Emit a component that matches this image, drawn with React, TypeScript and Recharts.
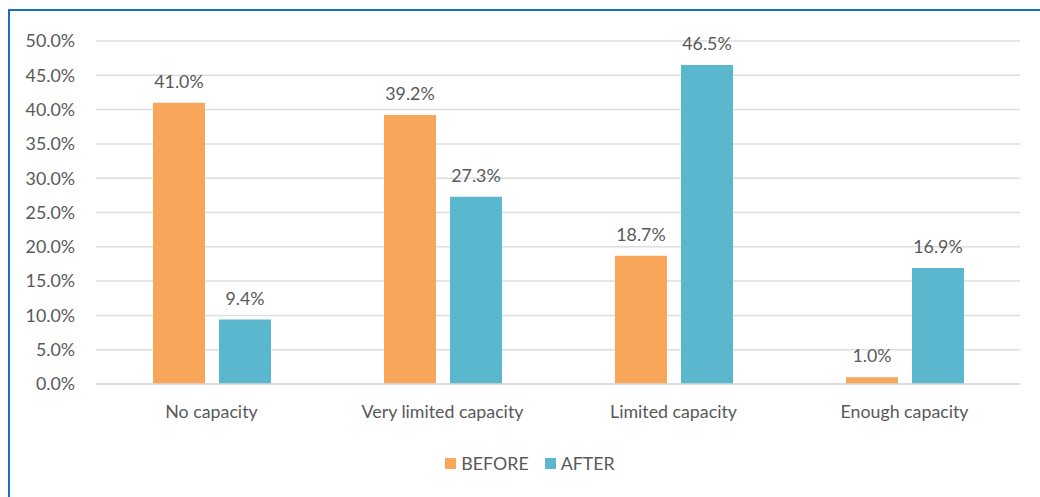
import { BarChart, Bar, XAxis, YAxis, CartesianGrid, Legend, LabelList } from "recharts";

const categories = ["No capacity", "Very limited capacity", "Limited capacity", "Enough capacity"];
const before = [41.0, 39.2, 18.7, 1.0];
const after = [9.4, 27.3, 46.5, 16.9];
const yTicks = [0, 5, 10, 15, 20, 25, 30, 35, 40, 45, 50];

const data = categories.map((name, i) => ({ name, BEFORE: before[i], AFTER: after[i] }));

const ORANGE = "#f8a75a";
const BLUE = "#5ab7cd";
const TEXT = "#595959";
const FONT = "Lato, 'Open Sans', sans-serif";
const FS = 17.8;

const pct = (v: number) => `${Number(v).toFixed(1)}%`;

function LegendContent() {
  const items = [
    { label: "BEFORE", color: ORANGE },
    { label: "AFTER", color: BLUE },
  ];
  return (
    <div
      style={{
        display: "flex",
        justifyContent: "center",
        gap: 16,
        paddingTop: 29,
        paddingLeft: 30,
        fontFamily: FONT,
        fontSize: FS,
        color: TEXT,
        lineHeight: "20px",
      }}
    >
      {items.map((it) => (
        <div key={it.label} style={{ display: "flex", alignItems: "center", gap: 5 }}>
          <span style={{ width: 11, height: 11, background: it.color, display: "inline-block" }} />
          <span>{it.label}</span>
        </div>
      ))}
    </div>
  );
}

export default function App() {
  return (
    <div style={{ position: "absolute", left: 0, top: 0, width: 1040, height: 497, background: "#fff", overflow: "hidden" }}>
      <div
        style={{
          position: "absolute",
          left: 8,
          top: 9,
          width: 1200,
          height: 700,
          borderTop: "2px solid #1a6dbf",
          borderLeft: "2px solid #1a6dbf",
        }}
      />
      <div style={{ position: "absolute", left: 0, top: 0 }}>
        <BarChart
          width={1040}
          height={497}
          data={data}
          margin={{ top: 41, right: 20, left: 10, bottom: 24 }}
          barGap={14}
          barSize={52}
          style={{ fontFamily: FONT }}
        >
          <CartesianGrid vertical={false} stroke="#dedede" strokeWidth={1.5} />
          <XAxis
            dataKey="name"
            axisLine={{ stroke: "#d9d9d9", strokeWidth: 1.5 }}
            tickLine={false}
            tickMargin={15}
            height={40}
            tick={{ fill: TEXT, fontSize: FS, fontFamily: FONT }}
          />
          <YAxis
            width={86}
            domain={[0, 50]}
            ticks={yTicks}
            tickFormatter={pct}
            axisLine={false}
            tickLine={false}
            tickMargin={15}
            tick={{ fill: TEXT, fontSize: FS, fontFamily: FONT }}
          />
          <Legend verticalAlign="bottom" height={49} content={<LegendContent />} />
          <Bar dataKey="BEFORE" fill={ORANGE} isAnimationActive={false}>
            <LabelList dataKey="BEFORE" position="top" offset={15} formatter={pct} fill={TEXT} fontSize={FS} fontFamily={FONT} />
          </Bar>
          <Bar dataKey="AFTER" fill={BLUE} isAnimationActive={false}>
            <LabelList dataKey="AFTER" position="top" offset={15} formatter={pct} fill={TEXT} fontSize={FS} fontFamily={FONT} />
          </Bar>
        </BarChart>
      </div>
    </div>
  );
}
